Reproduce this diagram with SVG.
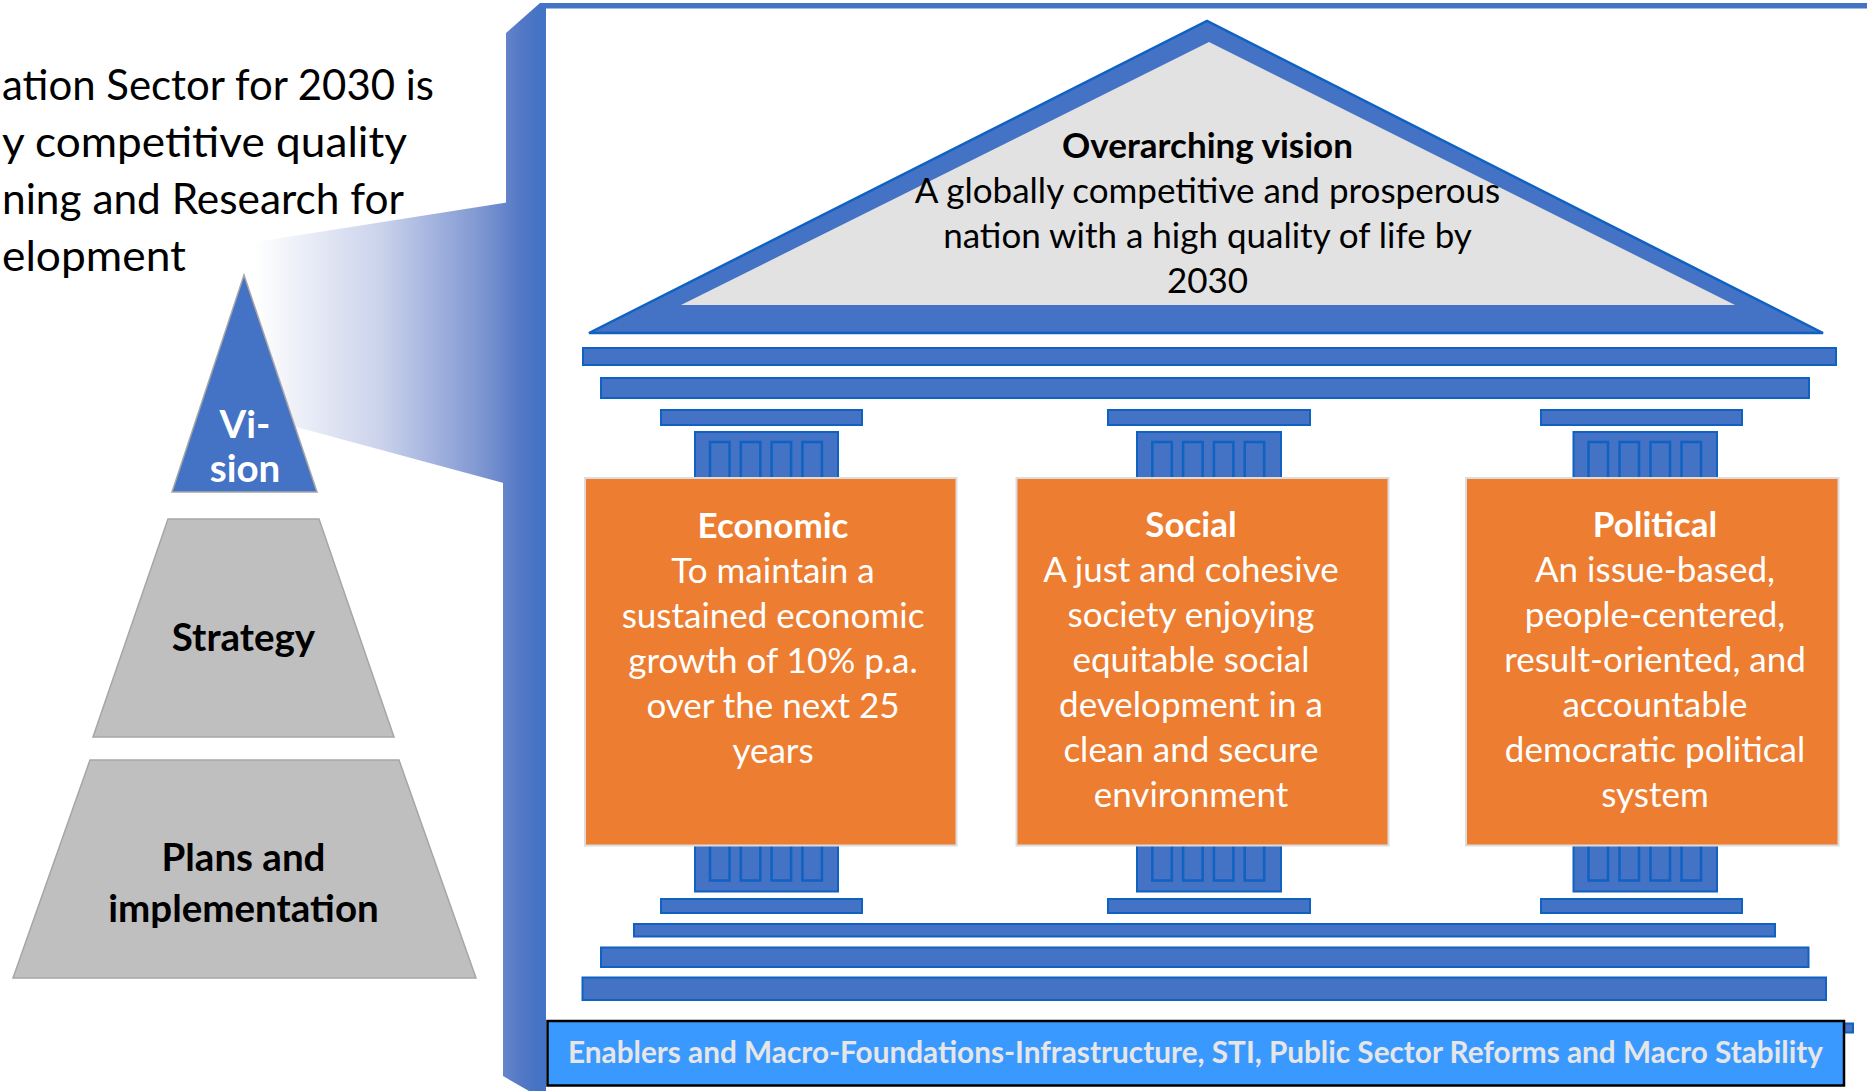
<svg xmlns="http://www.w3.org/2000/svg" width="1867" height="1091" viewBox="0 0 1867 1091">
<defs>
<linearGradient id="gBand" gradientUnits="userSpaceOnUse" x1="255" y1="0" x2="540" y2="0">
<stop offset="0" stop-color="#FFFFFF"/>
<stop offset="0.44" stop-color="#CBD3EC"/>
<stop offset="0.79" stop-color="#7F97D1"/>
<stop offset="0.93" stop-color="#5479C6"/>
<stop offset="1" stop-color="#4472C4"/>
</linearGradient>
<style>
.blk{fill:#4472C4;stroke:#0F62C2;stroke-width:2}
.fl{fill:#4472C4;stroke:#0F62C2;stroke-width:2.5}
.box{fill:#ED7D31;stroke:#DCDCDC;stroke-width:2}
.gray{fill:#BFBFBF;stroke:#A6A6A6;stroke-width:1.5}
.t{font-family:Lato,"Open Sans",sans-serif}
.ctx{font-size:43px;fill:#000}
.pyr{font-size:38.5px;font-weight:bold;text-anchor:middle}
.ped{font-size:35px;fill:#000;text-anchor:middle}
.bx{font-size:35px;fill:#FFFFFF;text-anchor:middle}
.b{font-weight:bold}
</style>
</defs>
<rect width="1867" height="1091" fill="#FFFFFF"/>

<g id="context-text" class="t ctx">
<text x="2" y="100" textLength="432" lengthAdjust="spacingAndGlyphs">ation Sector for 2030 is</text>
<text x="2" y="157" textLength="405" lengthAdjust="spacingAndGlyphs">y competitive quality</text>
<text x="2" y="214" textLength="402" lengthAdjust="spacingAndGlyphs">ning and Research for</text>
<text x="2" y="271" textLength="184" lengthAdjust="spacingAndGlyphs">elopment</text>
</g>

<g id="connectors">
<polygon points="250,243 522,200 522,488 300,428 250,414" fill="url(#gBand)"/>
</g>

<g id="frame">
<polygon points="506,33 540,3 1867,3 1867,8.5 546,8.5 546,1091 529,1091 503,1076 503,485 506,202" fill="url(#gBand)"/>
</g>

<g id="pyramid-vision">
<polygon points="244,275 317,492 172,492" fill="#4472C4" stroke="#A6A6A6" stroke-width="1.5"/>
<text class="t pyr" x="245" y="438" fill="#FFFFFF">Vi-</text>
<text class="t pyr" x="245" y="482" fill="#FFFFFF">sion</text>
</g>
<g id="pyramid-strategy">
<polygon class="gray" points="168,519 319,519 394,737 93,737"/>
<text class="t pyr" x="243.5" y="651" fill="#000">Strategy</text>
</g>
<g id="pyramid-plans">
<polygon class="gray" points="90,760 399,760 476,978 13,978"/>
<text class="t pyr" x="243.5" y="871" fill="#000">Plans and</text>
<text class="t pyr" x="243.5" y="922" fill="#000">implementation</text>
</g>

<g id="pediment">
<polygon points="589,333 1207,21 1823,333" fill="#4472C4" stroke="#0F62C2" stroke-width="2.5" stroke-linejoin="miter"/>
<polygon points="681,305 1209,42 1735,305" fill="#E2E2E2"/>
<g class="t ped">
<text class="b" x="1207.5" y="158">Overarching vision</text>
<text x="1207.5" y="203">A globally competitive and prosperous</text>
<text x="1207.5" y="248">nation with a high quality of life by</text>
<text x="1207.5" y="293">2030</text>
</g>
</g>

<g id="entablature">
<rect class="blk" x="583" y="348" width="1253" height="17"/>
<rect class="blk" x="601" y="378" width="1208" height="20"/>
</g>

<g id="column-economic">
<rect class="blk" x="661" y="410" width="201" height="15"/>
<rect class="blk" x="695" y="432" width="143" height="48"/>
<rect class="fl" x="710" y="442" width="19.5" height="38"/>
<rect class="fl" x="740.8" y="442" width="19.5" height="38"/>
<rect class="fl" x="771.6" y="442" width="19.5" height="38"/>
<rect class="fl" x="802.4" y="442" width="19.5" height="38"/>
<rect class="blk" x="695" y="843" width="143" height="48.5"/>
<rect class="fl" x="710" y="843" width="19.5" height="37.5"/>
<rect class="fl" x="740.8" y="843" width="19.5" height="37.5"/>
<rect class="fl" x="771.6" y="843" width="19.5" height="37.5"/>
<rect class="fl" x="802.4" y="843" width="19.5" height="37.5"/>
<rect class="blk" x="661" y="899" width="201" height="14"/>
<rect class="box" x="585" y="478" width="371.5" height="367.5"/>
<g class="t bx">
<text class="b" x="773" y="538">Economic</text>
<text x="773" y="583">To maintain a</text>
<text x="773" y="628">sustained economic</text>
<text x="773" y="673">growth of 10% p.a.</text>
<text x="773" y="718">over the next 25</text>
<text x="773" y="763">years</text>
</g>
</g>

<g id="column-social">
<rect class="blk" x="1108" y="410" width="202" height="15"/>
<rect class="blk" x="1137" y="432" width="144" height="48"/>
<rect class="fl" x="1152.3" y="442" width="19.5" height="38"/>
<rect class="fl" x="1183.1" y="442" width="19.5" height="38"/>
<rect class="fl" x="1213.9" y="442" width="19.5" height="38"/>
<rect class="fl" x="1244.7" y="442" width="19.5" height="38"/>
<rect class="blk" x="1137" y="843" width="144" height="48.5"/>
<rect class="fl" x="1152.3" y="843" width="19.5" height="37.5"/>
<rect class="fl" x="1183.1" y="843" width="19.5" height="37.5"/>
<rect class="fl" x="1213.9" y="843" width="19.5" height="37.5"/>
<rect class="fl" x="1244.7" y="843" width="19.5" height="37.5"/>
<rect class="blk" x="1108" y="899" width="202" height="14"/>
<rect class="box" x="1016.5" y="478" width="372" height="367.5"/>
<g class="t bx">
<text class="b" x="1191" y="537">Social</text>
<text x="1191" y="582">A just and cohesive</text>
<text x="1191" y="627">society enjoying</text>
<text x="1191" y="672">equitable social</text>
<text x="1191" y="717">development in a</text>
<text x="1191" y="762">clean and secure</text>
<text x="1191" y="807">environment</text>
</g>
</g>

<g id="column-political">
<rect class="blk" x="1541" y="410" width="201" height="15"/>
<rect class="blk" x="1573.5" y="432" width="143.5" height="48"/>
<rect class="fl" x="1588.5" y="442" width="19.5" height="38"/>
<rect class="fl" x="1619.5" y="442" width="19.5" height="38"/>
<rect class="fl" x="1650.5" y="442" width="19.5" height="38"/>
<rect class="fl" x="1681.5" y="442" width="19.5" height="38"/>
<rect class="blk" x="1573.5" y="843" width="143.5" height="48.5"/>
<rect class="fl" x="1588.5" y="843" width="19.5" height="37.5"/>
<rect class="fl" x="1619.5" y="843" width="19.5" height="37.5"/>
<rect class="fl" x="1650.5" y="843" width="19.5" height="37.5"/>
<rect class="fl" x="1681.5" y="843" width="19.5" height="37.5"/>
<rect class="blk" x="1541" y="899" width="201" height="14"/>
<rect class="box" x="1466" y="478" width="372.5" height="367.5"/>
<g class="t bx">
<text class="b" x="1655" y="537">Political</text>
<text x="1655" y="582">An issue-based,</text>
<text x="1655" y="627">people-centered,</text>
<text x="1655" y="672">result-oriented, and</text>
<text x="1655" y="717">accountable</text>
<text x="1655" y="762">democratic political</text>
<text x="1655" y="807">system</text>
</g>
</g>

<g id="base">
<rect class="blk" x="634" y="924" width="1141" height="12.5"/>
<rect class="blk" x="601" y="947.5" width="1207.5" height="19.5"/>
<rect class="blk" x="582.5" y="977.5" width="1243.5" height="22.5"/>
<rect class="blk" x="1840" y="1023.5" width="13" height="9"/>
</g>

<g id="footer">
<rect x="547.5" y="1021" width="1296.5" height="64.5" fill="#3A99FF" stroke="#000000" stroke-width="2.5"/>
<text class="t b" x="568" y="1063" font-size="29.5" fill="#E7E6E6" textLength="1255" lengthAdjust="spacingAndGlyphs">Enablers and Macro-Foundations-Infrastructure, STI, Public Sector Reforms and Macro Stability</text>
</g>
</svg>
